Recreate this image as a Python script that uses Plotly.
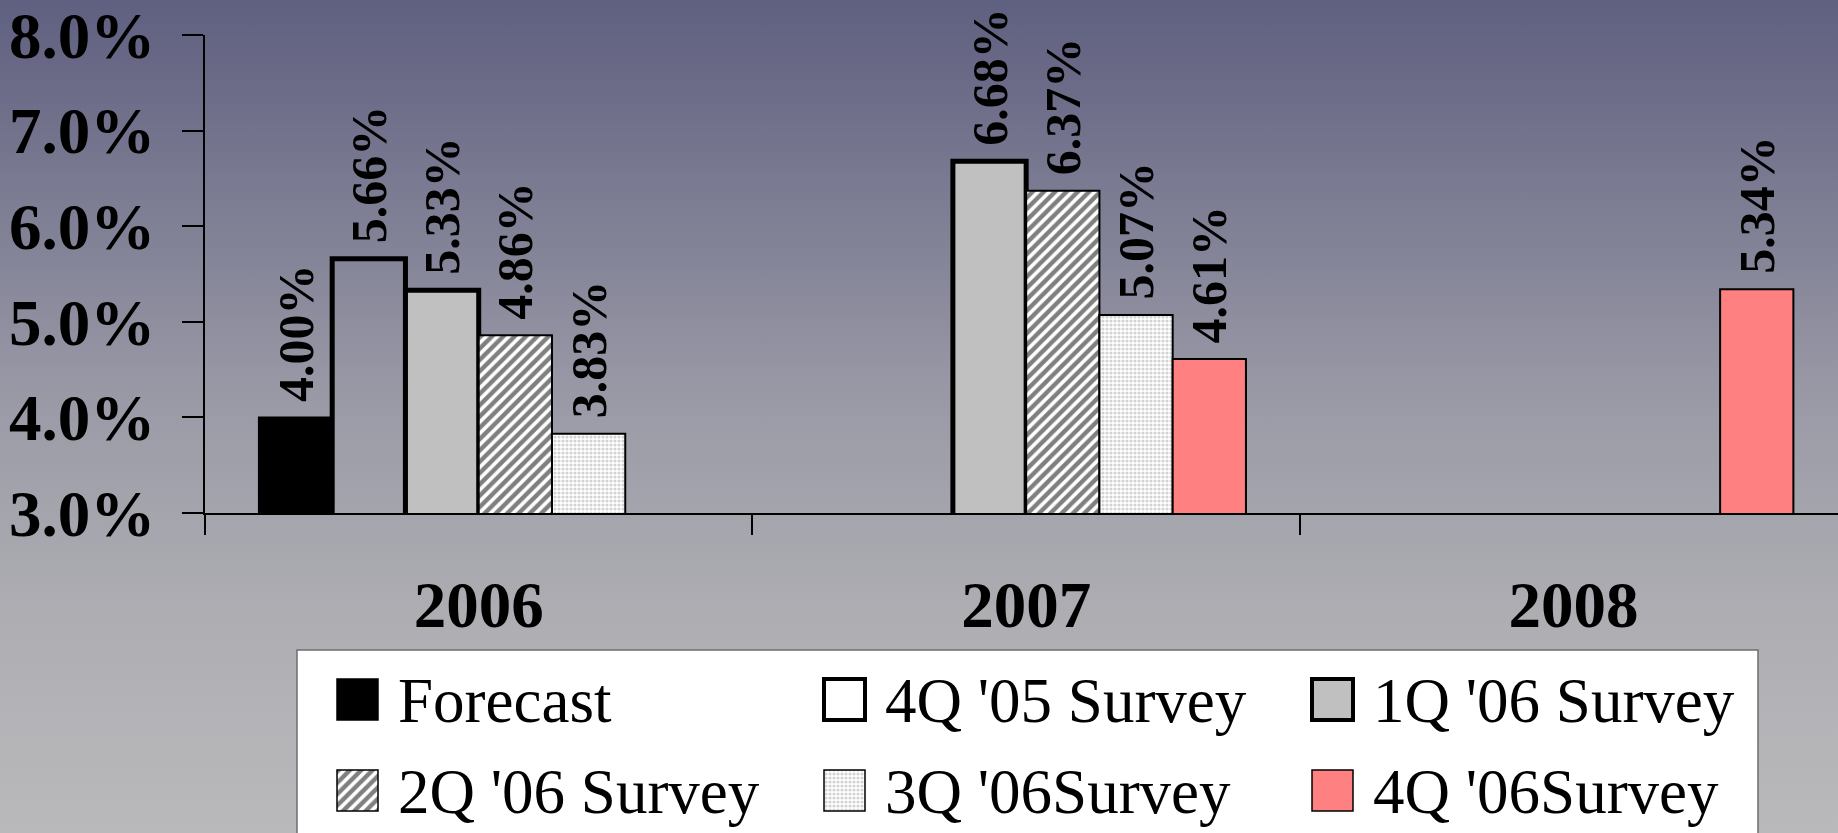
import base64
import plotly.graph_objects as go

# ---------------- data ----------------
years = ["2006", "2007", "2008"]
series_names = ["Forecast", "4Q '05 Survey", "1Q '06 Survey",
                "2Q '06 Survey", "3Q '06Survey", "4Q '06Survey"]
forecast = [4.00, None, None]
q4_05 = [5.66, None, None]
q1_06 = [5.33, 6.68, None]
q2_06 = [4.86, 6.37, None]
q3_06 = [3.83, 5.07, None]
q4_06 = [None, 4.61, 5.34]
series_values = [forecast, q4_05, q1_06, q2_06, q3_06, q4_06]
y_ticks = [3, 4, 5, 6, 7, 8]
y_tick_labels = ["3.0%", "4.0%", "5.0%", "6.0%", "7.0%", "8.0%"]

# ---------------- styles ----------------
W, H = 1838, 833
SERIF = "Times New Roman, Liberation Serif, serif"
styles = [
    dict(color="#000000", line=dict(color="black", width=2)),
    dict(color="rgba(0,0,0,0)", line=dict(color="black", width=5)),
    dict(color="#C0C0C0", line=dict(color="black", width=5)),
    dict(color="white", line=dict(color="black", width=2),
         pattern=dict(shape="/", fgcolor="black", bgcolor="white", size=8, solidity=0.55)),
    dict(color="white", line=dict(color="black", width=2),
         pattern=dict(shape=".", fgcolor="#A8A8A8", bgcolor="white", size=4, solidity=0.5)),
    dict(color="#FF8080", line=dict(color="black", width=2)),
]
legend_line_w = [1.5, 4, 4, 1.5, 1.5, 1.5]

fig = go.Figure()
for name, vals, st in zip(series_names, series_values, styles):
    fig.add_trace(go.Bar(
        x=years, y=vals, name=name, marker=st, showlegend=False,
        texttemplate="\u00a0%{y:.2f}%", textposition="outside", textangle=-90,
        textfont=dict(family=SERIF, size=50, color="black", weight="bold"),
        constraintext="none", cliponaxis=False,
        xaxis="x", yaxis="y",
    ))

# ---------------- custom legend (swatches + text) ----------------
leg_cols_x = [337, 824, 1312]
leg_rows_y = [679, 770]
sw = 41
for i, (name, st) in enumerate(zip(series_names, styles)):
    cx = leg_cols_x[i % 3]
    ry = leg_rows_y[i // 3]
    m = dict(st)
    m["line"] = dict(color="black", width=legend_line_w[i])
    if i == 1:
        m["color"] = "white"
    fig.add_trace(go.Bar(
        x=[cx], y=[sw], base=[ry], width=[sw], offset=0, marker=m,
        showlegend=False, hoverinfo="skip", xaxis="x2", yaxis="y2",
    ))
    fig.add_annotation(
        x=cx + sw + 18, y=ry + sw / 2 + 1, xref="x2", yref="y2",
        text=name, showarrow=False, xanchor="left", yanchor="middle",
        font=dict(family=SERIF, size=63, color="black"),
    )

fig.add_shape(type="rect", xref="x2", yref="y2", x0=297, x1=1758, y0=650, y1=H + 10,
              fillcolor="white", line=dict(color="#6E6E6E", width=1.5), layer="below")

# ---------------- background gradient ----------------
svg = (
    f'<svg xmlns="http://www.w3.org/2000/svg" width="{W}" height="{H}" '
    f'viewBox="0 0 {W} {H}" preserveAspectRatio="none">'
    '<defs><linearGradient id="g" x1="0" y1="0" x2="0" y2="1">'
    '<stop offset="0" stop-color="#5F5F80"/>'
    '<stop offset="0.5" stop-color="#9C9CA8"/>'
    '<stop offset="0.78" stop-color="#B0B0B4"/>'
    '<stop offset="1" stop-color="#B9B9BC"/>'
    '</linearGradient></defs>'
    f'<rect x="0" y="0" width="{W}" height="{H}" fill="url(#g)"/></svg>'
)
src = "data:image/svg+xml;base64," + base64.b64encode(svg.encode()).decode()
fig.add_layout_image(dict(source=src, xref="paper", yref="paper", x=0, y=1,
                          sizex=1, sizey=1, xanchor="left", yanchor="top",
                          sizing="stretch", layer="below"))

plot_left, plot_top, plot_bottom = 205, 35, 513
fig.update_layout(
    width=W, height=H,
    margin=dict(l=0, r=0, t=0, b=0, pad=0, autoexpand=False),
    paper_bgcolor="#B9B9BC", plot_bgcolor="rgba(0,0,0,0)",
    barmode="group", bargap=0.197, bargroupgap=0,
    showlegend=False,
    xaxis=dict(
        domain=[plot_left / W, 1.0], type="category", categoryorder="array",
        categoryarray=years, range=[-0.5, 2.483], tickson="boundaries",
        ticks="outside", ticklen=20, tickwidth=1.5, tickcolor="black",
        showline=True, linecolor="black", linewidth=1.5, showgrid=False,
        tickfont=dict(family=SERIF, size=65, color="black", weight="bold"),
        ticklabelstandoff=34, anchor="y", fixedrange=True, automargin=False,
        ticklabeloverflow="allow",
    ),
    yaxis=dict(
        domain=[(H - plot_bottom) / H, (H - plot_top) / H], range=[3, 8],
        tickvals=y_ticks, ticktext=y_tick_labels,
        ticks="outside", ticklen=21, tickwidth=1.5, tickcolor="black",
        showline=True, linecolor="black", linewidth=1.5, showgrid=False,
        zeroline=False,
        tickfont=dict(family=SERIF, size=65, color="black", weight="bold"),
        ticklabelstandoff=14, anchor="x", fixedrange=True, automargin=False,
        ticklabeloverflow="allow",
    ),
    xaxis2=dict(domain=[0, 1], range=[0, W], visible=False, anchor="y2",
                fixedrange=True, automargin=False),
    yaxis2=dict(domain=[0, 1], range=[H, 0], visible=False, anchor="x2",
                fixedrange=True, automargin=False),
)

fig.write_html("out.html", config={"displayModeBar": False},
               post_script="document.body.style.margin='0';")
